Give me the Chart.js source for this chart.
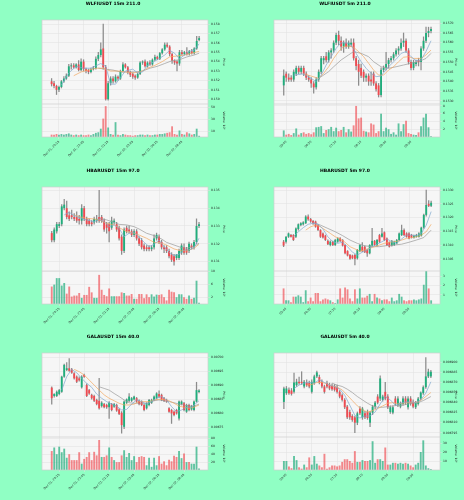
<!DOCTYPE html>
<html>
<head>
<meta charset="utf-8">
<script src="https://cdn.jsdelivr.net/npm/chart.js@4.4.0/dist/chart.umd.min.js"></script>
<style>
  html, body { margin: 0; padding: 0; background: #90ffc4; width: 464px; height: 500px; overflow: hidden; }
  .panel { position: absolute; width: 232px; height: 167px; }
</style>
</head>
<body>
<div class="panel" style="left:0;top:0"><canvas id="c0" width="232" height="167"></canvas></div>
<div class="panel" style="left:232px;top:0"><canvas id="c1" width="232" height="167"></canvas></div>
<div class="panel" style="left:0;top:167px"><canvas id="c2" width="232" height="167"></canvas></div>
<div class="panel" style="left:232px;top:167px"><canvas id="c3" width="232" height="167"></canvas></div>
<div class="panel" style="left:0;top:333px"><canvas id="c4" width="232" height="167"></canvas></div>
<div class="panel" style="left:232px;top:333px"><canvas id="c5" width="232" height="167"></canvas></div>
<script>
// ---- x axis tick labels ----
const tickIdx15 = [3, 13, 23, 33, 43, 53];
const labels15 = ['Dec 01, 20:15', 'Dec 01, 22:45', 'Dec 02, 01:15', 'Dec 02, 03:45', 'Dec 02, 06:15', 'Dec 02, 08:45'];
const tickIdx5 = [1, 11, 21, 31, 41, 51];
const labels5 = ['05:40', '06:30', '07:20', '08:10', '09:00', '09:50'];

// ---- WLFIUSDT 15m: [open, high, low, close] ----
const wlfi15 = [
  [.1519,.1522,.1514,.1516],[.1517,.1519,.1512,.1514],[.1514,.1515,.1505,.1510],[.1510,.1514,.1508,.1513],
  [.1513,.1520,.1512,.1519],[.1519,.1524,.1518,.1522],[.1522,.1527,.1521,.1525],[.1525,.1537,.1524,.1535],
  [.1535,.1538,.1532,.1536],[.1536,.1538,.1533,.1534],[.1534,.1538,.1533,.1537],[.1537,.1541,.1530,.1531],
  [.1531,.1543,.1530,.1540],[.1540,.1542,.1530,.1532],[.1532,.1533,.1528,.1530],[.1531,.1532,.1527,.1529],
  [.1529,.1533,.1528,.1532],[.1532,.1535,.1531,.1533],[.1533,.1545,.1532,.1543],[.1543,.1550,.1541,.1547],
  [.1547,.1560,.1545,.1553],[.1554,.1580,.1532,.1534],[.1534,.1536,.1499,.1500],[.1500,.1519,.1499,.1517],
  [.1517,.1524,.1515,.1522],[.1522,.1524,.1517,.1519],[.1519,.1526,.1518,.1524],[.1524,.1525,.1520,.1522],
  [.1522,.1531,.1521,.1530],[.1530,.1539,.1529,.1537],[.1537,.1538,.1533,.1534],[.1534,.1535,.1527,.1529],
  [.1529,.1530,.1524,.1526],[.1527,.1528,.1522,.1524],[.1525,.1526,.1521,.1523],[.1523,.1528,.1522,.1527],
  [.1527,.1540,.1526,.1539],[.1539,.1541,.1537,.1540],[.1540,.1542,.1534,.1535],[.1535,.1540,.1534,.1539],
  [.1539,.1541,.1536,.1537],[.1537,.1543,.1536,.1542],[.1542,.1547,.1541,.1545],[.1545,.1546,.1542,.1543],
  [.1543,.1550,.1542,.1549],[.1549,.1554,.1548,.1553],[.1553,.1560,.1552,.1558],[.1558,.1560,.1555,.1556],
  [.1556,.1557,.1546,.1548],[.1548,.1549,.1538,.1541],[.1541,.1542,.1537,.1539],[.1540,.1541,.1530,.1538],
  [.1538,.1552,.1536,.1550],[.1550,.1552,.1547,.1548],[.1548,.1551,.1547,.1550],[.1550,.1555,.1547,.1548],
  [.1548,.1552,.1547,.1551],[.1551,.1553,.1548,.1549],[.1549,.1555,.1548,.1554],[.1554,.1567,.1553,.1562],
  [.1563,.1567,.1562,.1565]
];
const wlfi15Vol = [4,4,5,4,5,4,5,6,4,3, 4,3,4,3,3,4,3,5,7,8, 14,31,52,16,5,4,25,4,3,5,
  4,3,3,2,3,3,4,4,3,4, 3,3,4,4,5,5,6,7,8,18, 5,4,11,5,4,8,6,4,5,14, 2];
const wlfi15MaFast = [[4,.1515],[7,.1528],[10,.1535],[13,.1533],[16,.1533],[20,.1538],[22,.1535],[24,.1516],[26,.1516],
  [28,.1523],[30,.1530],[33,.1532],[35,.1528],[37,.1529],[39,.1536],[43,.1542],[46,.1547],[48,.1552],[50,.1549],
  [52,.1543],[54,.1547],[56,.1551],[58,.1552],[60,.1559]];
const wlfi15MaMid = [[9,.1525],[12,.1529],[15,.1531],[18,.1533],[21,.1533],[24,.1530],[27,.1530],[30,.1529],[33,.1528],
  [36,.1529],[39,.1533],[42,.1536],[45,.1540],[48,.1545],[51,.1546],[54,.1547],[57,.1549],[60,.1551]];
const wlfi15MaSlow = [[19,.1533],[22,.1532],[25,.1531],[28,.1529],[31,.1529],[34,.1529],[37,.1530],[40,.1533],[43,.1535],
  [46,.1538],[49,.1541],[52,.1542],[55,.1545],[58,.1547],[60,.1549]];
const wlfi15Ticks = [0.150, 0.151, 0.152, 0.153, 0.154, 0.155, 0.156, 0.157, 0.158];
const wlfi15VolTicks = [10, 20, 30, 40, 50];

// ---- WLFIUSDT 5m ----
const wlfi5 = [
  [.1538,.1546,.1533,.1543],[.1544,.1545,.1540,.1542],[.1542,.1544,.1540,.1541],[.1542,.1543,.1540,.1541],
  [.1541,.1546,.1540,.1545],[.1544,.1548,.1543,.1547],[.1547,.1548,.1544,.1545],[.1545,.1548,.1544,.1547],
  [.1547,.1548,.1543,.1544],[.1544,.1545,.1541,.1542],[.1542,.1543,.1540,.1541],[.1541,.1542,.1537,.1539],
  [.1539,.1540,.1534,.1537],[.1537,.1542,.1536,.1541],[.1541,.1546,.1540,.1545],[.1545,.1553,.1544,.1552],
  [.1551,.1553,.1549,.1552],[.1553,.1555,.1550,.1551],[.1551,.1556,.1550,.1555],[.1555,.1557,.1552,.1556],
  [.1556,.1561,.1555,.1560],[.1560,.1565,.1559,.1564],[.1564,.1566,.1559,.1561],[.1561,.1563,.1556,.1558],
  [.1558,.1561,.1555,.1560],[.1560,.1562,.1557,.1558],[.1558,.1561,.1557,.1560],[.1559,.1562,.1558,.1560],
  [.1560,.1562,.1551,.1552],[.1552,.1553,.1546,.1548],[.1549,.1551,.1538,.1545],[.1547,.1549,.1542,.1543],
  [.1545,.1546,.1540,.1542],[.1542,.1544,.1540,.1543],[.1543,.1544,.1538,.1540],[.1541,.1545,.1538,.1540],
  [.1544,.1545,.1538,.1539],[.1539,.1540,.1535,.1536],[.1538,.1539,.1532,.1533],[.1533,.1547,.1532,.1546],
  [.1546,.1548,.1545,.1547],[.1547,.1555,.1546,.1549],[.1549,.1552,.1547,.1551],[.1551,.1553,.1550,.1552],
  [.1552,.1555,.1551,.1554],[.1554,.1557,.1553,.1556],[.1556,.1558,.1554,.1557],[.1557,.1562,.1556,.1560],
  [.1560,.1565,.1558,.1561],[.1561,.1562,.1555,.1556],[.1556,.1557,.1549,.1550],[.1550,.1551,.1546,.1547],
  [.1547,.1551,.1546,.1550],[.1549,.1551,.1548,.1550],[.1551,.1552,.1548,.1550],[.1550,.1558,.1546,.1557],
  [.1557,.1563,.1556,.1561],[.1561,.1568,.1560,.1565],[.1565,.1568,.1563,.1566],[.1566,.1568,.1565,.1567]
];
const wlfi5Vol = [1.7,0.6,0.8,0.5,1.0,2.2,0.6,1.0,1.2,0.8, 1.0,0.7,1.2,2.5,2.6,2.8,1.0,1.8,2.0,2.6,
  1.5,2.4,1.5,1.8,2.6,1.2,2.0,1.4,3.0,8.0, 4.8,5.0,1.6,1.4,1.2,3.5,3.2,1.0,1.5,6.0,
  1.5,2.4,2.0,0.8,1.2,0.6,3.5,1.5,3.3,4.2, 1.0,0.8,0.6,0.5,1.2,2.8,5.0,6.0,2.5,0.2];
const wlfi5MaFast = [[4,.15433],[8,.15439],[11,.15416],[13,.15399],[15,.15433],[17,.15485],[19,.15528],[21,.15571],
  [23,.15600],[26,.15597],[27,.15588],[29,.15545],[31,.15502],[33,.15468],[35,.15442],[37,.15425],[39,.15428],
  [40,.15445],[42,.15476],[45,.15514],[47,.15545],[49,.15554],[51,.15528],[53,.15507],[55,.15511],[57,.15555],[59,.15610]];
const wlfi5MaMid = [[8,.15439],[11,.15428],[14,.15416],[16,.15442],[18,.15476],[20,.15519],[22,.15554],[24,.15580],
  [26,.15583],[28,.15576],[30,.15554],[32,.15528],[34,.15494],[36,.15459],[38,.15433],[40,.15433],[42,.15459],
  [44,.15476],[46,.15502],[48,.15525],[50,.15528],[52,.15519],[55,.15519],[57,.15537],[59,.15562]];
const wlfi5MaSlow = [[14,.15416],[18,.15451],[20,.15476],[23,.15511],[26,.15537],[28,.15554],[31,.15545],[34,.15528],
  [36,.15502],[39,.15476],[42,.15468],[45,.15476],[48,.15485],[51,.15494],[54,.15502],[57,.15519],[59,.15545]];
const wlfi5Ticks = [0.1530, 0.1535, 0.1540, 0.1545, 0.1550, 0.1555, 0.1560, 0.1565, 0.1570];
const wlfi5VolTicks = [2, 4, 6, 8];

// ---- HBARUSDT 15m ----
const hbar15 = [
  [.1326,.1327,.1321,.1322],[.1322,.1329,.1321,.1328],[.1327,.1332,.1326,.1331],[.1330,.1332,.1329,.1331],
  [.1331,.1342,.1330,.1341],[.1340,.1345,.1339,.1342],[.1340,.1344,.1334,.1335],[.1336,.1338,.1333,.1334],
  [.1336,.1339,.1334,.1335],[.1335,.1337,.1333,.1334],[.1335,.1338,.1332,.1333],[.1334,.1336,.1331,.1333],
  [.1333,.1342,.1331,.1340],[.1340,.1341,.1333,.1334],[.1334,.1335,.1330,.1331],[.1333,.1334,.1330,.1331],
  [.1332,.1333,.1330,.1331],[.1332,.1335,.1331,.1334],[.1333,.1336,.1332,.1334],[.1335,.1350,.1332,.1333],
  [.1335,.1336,.1332,.1333],[.1333,.1334,.1327,.1328],[.1331,.1332,.1326,.1329],[.1331,.1332,.1321,.1327],
  [.1329,.1335,.1328,.1333],[.1332,.1334,.1331,.1333],[.1331,.1332,.1327,.1328],[.1329,.1330,.1322,.1323],
  [.1324,.1325,.1314,.1316],[.1316,.1329,.1315,.1328],[.1329,.1330,.1326,.1327],[.1328,.1330,.1326,.1327],
  [.1327,.1328,.1324,.1325],[.1325,.1328,.1324,.1327],[.1327,.1328,.1322,.1323],[.1323,.1324,.1319,.1320],
  [.1322,.1323,.1317,.1318],[.1319,.1320,.1316,.1317],[.1318,.1319,.1316,.1317],[.1318,.1319,.1316,.1317],
  [.1317,.1319,.1316,.1318],[.1318,.1325,.1317,.1323],[.1323,.1326,.1322,.1325],[.1324,.1325,.1320,.1321],
  [.1321,.1322,.1317,.1318],[.1318,.1319,.1315,.1317],[.1318,.1319,.1315,.1316],[.1316,.1317,.1312,.1313],
  [.1314,.1315,.1310,.1311],[.1313,.1314,.1308,.1310],[.1312,.1314,.1311,.1314],[.1312,.1317,.1311,.1316],
  [.1315,.1320,.1314,.1319],[.1318,.1320,.1314,.1315],[.1317,.1318,.1314,.1315],[.1316,.1321,.1315,.1320],
  [.1319,.1320,.1317,.1318],[.1318,.1322,.1317,.1321],[.1321,.1334,.1320,.1330],[.1330,.1332,.1329,.1331]
];
const hbar15Vol = [5.4,6.0,8.0,8.0,5.7,6.5,3.2,5.4,2.3,2.6, 2.6,3.4,1.9,2.8,2.8,5.3,3.6,1.9,1.9,9.0,
  4.4,2.8,2.4,4.8,2.4,2.4,2.4,2.4,3.6,3.4, 2.6,2.6,3.1,1.6,1.6,3.1,3.1,1.8,3.0,2.1,
  3.0,2.3,2.9,2.8,3.0,2.1,1.1,4.4,3.8,3.6, 2.1,3.0,3.0,2.1,1.6,2.6,1.6,1.9,7.2,0.4];
const hbar15MaFast = [[5,.13362],[7,.13377],[9,.13358],[11,.13347],[14,.13334],[17,.13324],[19,.13337],[21,.13324],
  [23,.13296],[25,.13306],[27,.13287],[29,.13240],[31,.13259],[33,.13263],[35,.13240],[37,.13208],[39,.13184],
  [41,.13197],[43,.13221],[45,.13184],[47,.13152],[49,.13133],[51,.13141],[53,.13165],[55,.13165],[57,.13178],[59,.13231]];
const hbar15MaMid = [[9,.13362],[11,.13352],[14,.13343],[17,.13339],[19,.13334],[22,.13315],[25,.13306],[27,.13291],
  [30,.13268],[33,.13259],[35,.13249],[38,.13231],[41,.13208],[44,.13203],[46,.13193],[49,.13171],[52,.13160],
  [54,.13160],[57,.13175],[59,.13197]];
const hbar15MaSlow = [[19,.13343],[22,.13334],[25,.13320],[27,.13309],[30,.13306],[33,.13296],[35,.13283],[38,.13259],
  [41,.13246],[44,.13227],[46,.13208],[49,.13193],[52,.13178],[54,.13175],[57,.13184],[59,.13203]];
const hbar15Ticks = [0.131, 0.132, 0.133, 0.134, 0.135];
const hbar15VolTicks = [2, 4, 6, 8, 10];

// ---- HBARUSDT 5m ----
const hbar5 = [
  [.13113,.13118,.13095,.13099],[.13113,.13132,.13108,.13131],[.13131,.13145,.13128,.13143],[.13137,.13140,.13129,.13131],
  [.13137,.13139,.13117,.13119],[.13131,.13163,.13128,.13161],[.13159,.13178,.13155,.13176],[.13173,.13182,.13170,.13180],
  [.13176,.13186,.13173,.13183],[.13180,.13208,.13178,.13204],[.13204,.13210,.13190,.13194],[.13195,.13198,.13183,.13186],
  [.13188,.13190,.13176,.13180],[.13186,.13188,.13165,.13167],[.13173,.13175,.13153,.13155],[.13155,.13157,.13128,.13131],
  [.13143,.13145,.13126,.13128],[.13135,.13137,.13117,.13119],[.13116,.13120,.13102,.13104],[.13101,.13116,.13098,.13113],
  [.13113,.13115,.13099,.13101],[.13101,.13122,.13099,.13119],[.13113,.13128,.13110,.13125],[.13125,.13128,.13113,.13116],
  [.13119,.13121,.13097,.13099],[.13101,.13103,.13069,.13071],[.13079,.13081,.13061,.13063],[.13065,.13067,.13049,.13051],
  [.13063,.13065,.13051,.13053],[.13065,.13067,.13029,.13051],[.13053,.13085,.13050,.13083],[.13079,.13103,.13077,.13101],
  [.13095,.13110,.13077,.13079],[.13095,.13098,.13073,.13075],[.13083,.13086,.13060,.13071],[.13071,.13103,.13069,.13101],
  [.13099,.13161,.13096,.13116],[.13116,.13118,.13099,.13101],[.13099,.13122,.13097,.13119],[.13137,.13140,.13110,.13113],
  [.13131,.13161,.13129,.13143],[.13147,.13149,.13117,.13119],[.13125,.13127,.13099,.13101],[.13111,.13113,.13093,.13095],
  [.13099,.13118,.13097,.13116],[.13101,.13115,.13099,.13113],[.13107,.13122,.13105,.13119],[.13119,.13145,.13117,.13143],
  [.13137,.13173,.13135,.13155],[.13155,.13160,.13135,.13137],[.13143,.13146,.13129,.13131],[.13143,.13146,.13123,.13125],
  [.13137,.13140,.13126,.13128],[.13128,.13137,.13126,.13135],[.13131,.13140,.13129,.13137],[.13131,.13146,.13129,.13143],
  [.13135,.13166,.13133,.13164],[.13164,.13213,.13161,.13210],[.13210,.13300,.13205,.13246],[.13250,.13262,.13240,.13243],
  [.13243,.13260,.13240,.13254]
];
const hbar5Vol = [1.7,0.4,0.4,0.2,0.8,0.8,0.95,0.8,0.2,1.5, 0.3,0.7,0.3,1.2,1.2,0.3,0.5,0.6,0.5,0.4,
  0.2,0.1,0.5,1.7,0.7,1.8,1.6,0.6,0.3,1.6, 0.6,1.7,0.7,0.7,0.9,1.1,0.3,1.1,0.7,0.6,
  0.4,0.5,0.5,0.3,0.7,0.3,0.4,1.1,0.8,0.4, 0.3,0.4,0.4,0.5,0.4,0.5,0.6,2.1,3.6,1.7,0.4];
const hbar5MaFast = [[4,.13131],[6,.13149],[8,.13164],[10,.13176],[12,.13180],[14,.13176],[16,.13159],[18,.13131],
  [20,.13113],[22,.13107],[24,.13111],[26,.13095],[28,.13075],[30,.13065],[32,.13075],[34,.13083],[36,.13095],
  [38,.13104],[40,.13113],[42,.13123],[44,.13113],[46,.13107],[48,.13123],[50,.13137],[52,.13137],[54,.13135],
  [56,.13143],[58,.13173],[60,.13222]];
const hbar5MaMid = [[9,.13155],[11,.13167],[13,.13173],[15,.13167],[17,.13155],[19,.13143],[21,.13131],[23,.13123],
  [25,.13111],[27,.13095],[29,.13087],[31,.13079],[33,.13083],[35,.13089],[37,.13095],[39,.13101],[41,.13107],
  [43,.13111],[45,.13113],[47,.13116],[50,.13125],[52,.13128],[54,.13131],[56,.13137],[58,.13149],[60,.13176]];
const hbar5MaSlow = [[12,.13183],[15,.13173],[18,.13161],[21,.13149],[24,.13135],[27,.13119],[30,.13107],[33,.13098],
  [36,.13095],[39,.13095],[42,.13099],[45,.13101],[48,.13104],[51,.13111],[54,.13119],[57,.13128],[60,.13155]];
const hbar5Ticks = [0.1305, 0.1310, 0.1315, 0.1320, 0.1325, 0.1330];
const hbar5VolTicks = [1, 2, 3];

// ---- GALAUSDT 15m ----
const gala15 = [
  [.006892,.006895,.006833,.006854],[.006862,.006871,.006858,.006869],[.006862,.006880,.006860,.006877],[.006869,.006886,.006866,.006883],
  [.006877,.006933,.006875,.006931],[.006931,.006976,.006928,.006973],[.006955,.006981,.006952,.006961],[.006961,.006996,.006950,.006952],
  [.006957,.006961,.006943,.006945],[.006943,.006946,.006922,.006925],[.006931,.006934,.006910,.006913],[.006925,.006930,.006915,.006918],
  [.006893,.006935,.006890,.006931],[.006937,.006940,.006928,.006931],[.006901,.006905,.006860,.006862],[.006883,.006886,.006868,.006871],
  [.006866,.006869,.006851,.006854],[.006862,.006865,.006842,.006845],[.006848,.006851,.006830,.006833],[.006845,.006925,.006815,.006818],
  [.006826,.006842,.006822,.006838],[.006833,.006836,.006819,.006822],[.006830,.006833,.006818,.006822],[.006822,.006842,.006782,.006838],
  [.006833,.006836,.006809,.006812],[.006824,.006836,.006821,.006833],[.006830,.006833,.006807,.006810],[.006814,.006817,.006795,.006798],
  [.006802,.006806,.006729,.006758],[.006752,.006845,.006745,.006842],[.006838,.006852,.006835,.006850],[.006845,.006871,.006842,.006860],
  [.006845,.006857,.006842,.006854],[.006850,.006862,.006848,.006860],[.006854,.006857,.006839,.006842],[.006845,.006848,.006830,.006833],
  [.006842,.006845,.006827,.006830],[.006830,.006833,.006809,.006812],[.006818,.006838,.006815,.006836],[.006830,.006850,.006827,.006848],
  [.006838,.006851,.006835,.006848],[.006848,.006863,.006845,.006860],[.006854,.006874,.006851,.006871],[.006869,.006880,.006857,.006860],
  [.006866,.006869,.006845,.006848],[.006854,.006857,.006842,.006845],[.006848,.006851,.006839,.006842],[.006818,.006821,.006803,.006806],
  [.006812,.006815,.006764,.006800],[.006806,.006809,.006791,.006794],[.006812,.006815,.006797,.006800],[.006782,.006845,.006776,.006842],
  [.006833,.006845,.006830,.006842],[.006836,.006839,.006809,.006812],[.006806,.006833,.006803,.006830],[.006830,.006833,.006809,.006812],
  [.006814,.006829,.006811,.006826],[.006812,.006845,.006809,.006842],[.006842,.006911,.006840,.006883],[.006876,.006885,.006873,.006882]
];
const gala15Vol = [48,57,40,59,45,54,31,40,25,25, 25,45,16,28,33,45,25,46,37,76,
  33,33,37,57,33,25,20,20,37,50, 33,43,25,35,20,33,35,33,12,31,
  8,31,12,35,16,22,12,26,22,36, 33,48,30,42,20,20,16,16,59,4];
const gala15MaFast = [[4,.006883],[6,.006931],[8,.006957],[10,.006945],[12,.006925],[14,.006907],[16,.006893],[18,.006869],
  [20,.006854],[22,.006842],[24,.006833],[26,.006826],[28,.006812],[30,.006814],[32,.006833],[34,.006848],[36,.006842],
  [38,.006833],[40,.006842],[42,.006854],[44,.006860],[46,.006848],[48,.006824],[50,.006806],[52,.006812],[54,.006822],
  [56,.006822],[59,.006845]];
const gala15MaMid = [[9,.006957],[11,.006949],[13,.006937],[15,.006919],[17,.006901],[19,.006883],[21,.006866],[23,.006854],
  [25,.006845],[27,.006836],[29,.006830],[31,.006830],[33,.006833],[35,.006842],[37,.006842],[39,.006842],[41,.006848],
  [43,.006850],[45,.006850],[47,.006845],[49,.006836],[51,.006826],[53,.006822],[55,.006818],[57,.006822],[59,.006830]];
const gala15MaSlow = [[19,.006895],[21,.006889],[23,.006883],[25,.006871],[27,.006860],[29,.006848],[31,.006838],[33,.006836],
  [35,.006836],[37,.006836],[39,.006838],[41,.006845],[43,.006848],[45,.006845],[47,.006842],[49,.006838],[51,.006833],
  [53,.006830],[55,.006826],[57,.006826],[59,.006833]];
const gala15Ticks = [0.00675, 0.00680, 0.00685, 0.00690, 0.00695, 0.00700];
const gala15VolTicks = [20, 40, 60, 80];

// ---- GALAUSDT 5m ----
const gala5 = [
  [.006841,.006863,.006831,.006861],[.006854,.006864,.006852,.006861],[.006859,.006862,.006852,.006854],[.006858,.006861,.006851,.006853],
  [.006856,.006884,.006854,.006870],[.006866,.006875,.006864,.006871],[.006871,.006878,.006867,.006869],[.006871,.006886,.006867,.006869],
  [.006864,.006873,.006862,.006871],[.006870,.006874,.006864,.006866],[.006869,.006872,.006862,.006864],[.006856,.006874,.006854,.006871],
  [.006869,.006881,.006867,.006879],[.006879,.006887,.006877,.006885],[.006878,.006881,.006868,.006870],[.006871,.006874,.006862,.006864],
  [.006864,.006866,.006854,.006856],[.006869,.006872,.006862,.006864],[.006866,.006869,.006859,.006861],[.006865,.006868,.006858,.006860],
  [.006864,.006867,.006857,.006859],[.006863,.006866,.006854,.006856],[.006856,.006858,.006847,.006849],[.006851,.006853,.006842,.006844],
  [.006844,.006846,.006831,.006833],[.006834,.006836,.006816,.006818],[.006826,.006829,.006815,.006818],[.006820,.006822,.006812,.006814],
  [.006818,.006820,.006795,.006810],[.006810,.006826,.006807,.006824],[.006831,.006834,.006822,.006824],[.006818,.006833,.006815,.006831],
  [.006824,.006827,.006816,.006818],[.006826,.006829,.006815,.006817],[.006810,.006827,.006804,.006825],[.006825,.006836,.006822,.006834],
  [.006834,.006842,.006831,.006840],[.006849,.006852,.006838,.006840],[.006846,.006880,.006843,.006876],[.006844,.006851,.006842,.006849],
  [.006856,.006870,.006844,.006846],[.006849,.006852,.006831,.006833],[.006826,.006835,.006824,.006833],[.006825,.006835,.006823,.006833],
  [.006846,.006849,.006836,.006839],[.006836,.006849,.006834,.006846],[.006834,.006841,.006832,.006839],[.006838,.006849,.006836,.006846],
  [.006846,.006849,.006837,.006840],[.006833,.006849,.006830,.006846],[.006846,.006849,.006836,.006839],[.006841,.006844,.006832,.006834],
  [.006833,.006842,.006831,.006840],[.006838,.006848,.006836,.006846],[.006846,.006856,.006844,.006855],[.006854,.006865,.006852,.006863],
  [.006863,.006907,.006861,.006879],[.006879,.006890,.006877,.006886],[.006879,.006888,.006877,.006886]
];
const gala5Vol = [10,10,4,2,15.5,11,3,1.5,6,3, 14,6,15.5,7,5,3,18,1.5,3,5,
  5,4,5,9,12,12,10,8,21,9, 9,11,10,10,11,32,8,12,12,10,
  25,6,6,8,8,7,8,7,8,7, 5,3,6,8,20,33,5,2,1];
const gala5MaFast = [[4,.006861],[6,.006866],[8,.006869],[10,.006870],[12,.006869],[14,.006874],[16,.006870],[18,.006866],
  [20,.006864],[22,.006860],[24,.006851],[26,.006836],[28,.006821],[30,.006817],[32,.006820],[34,.006820],[36,.006826],
  [38,.006838],[40,.006849],[42,.006844],[44,.006836],[46,.006839],[48,.006841],[50,.006841],[52,.006840],[54,.006844],
  [56,.006854],[58,.006871]];
const gala5MaMid = [[9,.006866],[11,.006867],[13,.006870],[15,.006870],[17,.006868],[19,.006865],[21,.006863],[23,.006859],
  [25,.006851],[27,.006843],[29,.006835],[31,.006829],[33,.006826],[35,.006828],[37,.006831],[39,.006835],[41,.006839],
  [43,.006840],[45,.006838],[47,.006839],[49,.006840],[51,.006840],[53,.006841],[55,.006846],[58,.006855]];
const gala5MaSlow = [[19,.006869],[21,.006866],[23,.006864],[25,.006860],[27,.006855],[29,.006849],[31,.006844],[33,.006839],
  [35,.006835],[37,.006833],[39,.006833],[41,.006834],[43,.006835],[45,.006836],[47,.006836],[49,.006838],[51,.006839],
  [53,.006840],[55,.006843],[58,.006849]];
const gala5Ticks = [0.006795, 0.006810, 0.006825, 0.006840, 0.006855, 0.006870, 0.006885, 0.006900];
const gala5VolTicks = [10, 20, 30];

// ---- styles ----
const UP = '#1fae7c', DOWN = '#f04a50';
const UP_VOL = 'rgba(31,174,124,0.7)', DOWN_VOL = 'rgba(240,74,80,0.65)';
const WICK = '#8c8c8c';
const MA_COLORS = ['#7fa7cf', '#f2a860', '#9a9a9a'];
const GRID = '#e0e0e0', PLOT_BG = '#f6f6f6', FRAME = '#cfcfcf';

Chart.defaults.font.family = "'DejaVu Sans'";
Chart.defaults.color = '#222';

const panels = [
  { el: 'c0', title: 'WLFIUSDT 15m 211.0', candles: wlfi15, vol: wlfi15Vol, mas: [wlfi15MaFast, wlfi15MaMid, wlfi15MaSlow],
    ticks: wlfi15Ticks, dec: 3, yMin: 0.14949, yMax: 0.15843, volTicks: wlfi15VolTicks, volMax: 55.6, xt: tickIdx15, xl: labels15 },
  { el: 'c1', title: 'WLFIUSDT 5m 211.0', candles: wlfi5, vol: wlfi5Vol, mas: [wlfi5MaFast, wlfi5MaMid, wlfi5MaSlow],
    ticks: wlfi5Ticks, dec: 4, yMin: 0.15284, yMax: 0.15717, volTicks: wlfi5VolTicks, volMax: 8.5, xt: tickIdx5, xl: labels5 },
  { el: 'c2', title: 'HBARUSDT 15m 97.0', candles: hbar15, vol: hbar15Vol, mas: [hbar15MaFast, hbar15MaMid, hbar15MaSlow],
    ticks: hbar15Ticks, dec: 3, yMin: 0.13047, yMax: 0.13519, volTicks: hbar15VolTicks, volMax: 10.2, xt: tickIdx15, xl: labels15 },
  { el: 'c3', title: 'HBARUSDT 5m 97.0', candles: hbar5, vol: hbar5Vol, mas: [hbar5MaFast, hbar5MaMid, hbar5MaSlow],
    ticks: hbar5Ticks, dec: 4, yMin: 0.13007, yMax: 0.13311, volTicks: hbar5VolTicks, volMax: 3.6, xt: tickIdx5, xl: labels5 },
  { el: 'c4', title: 'GALAUSDT 15m 40.0', candles: gala15, vol: gala15Vol, mas: [gala15MaFast, gala15MaMid, gala15MaSlow],
    ticks: gala15Ticks, dec: 5, yMin: 0.0067156, yMax: 0.0070155, volTicks: gala15VolTicks, volMax: 83.5, xt: tickIdx15, xl: labels15 },
  { el: 'c5', title: 'GALAUSDT 5m 40.0', candles: gala5, vol: gala5Vol, mas: [gala5MaFast, gala5MaMid, gala5MaSlow],
    ticks: gala5Ticks, dec: 6, yMin: 0.0067887, yMax: 0.0069139, volTicks: gala5VolTicks, volMax: 36.7, xt: tickIdx5, xl: labels5 }
];

// plot background and frames
const plotFrame = {
  id: 'plotFrame',
  beforeDraw(chart) {
    const { ctx, chartArea: a } = chart;
    ctx.save();
    ctx.fillStyle = PLOT_BG;
    ctx.fillRect(a.left, a.top, a.right - a.left, a.bottom - a.top);
    ctx.restore();
  },
  afterDraw(chart) {
    const { ctx, chartArea: a, scales } = chart;
    ctx.save();
    ctx.strokeStyle = FRAME;
    ctx.lineWidth = 0.7;
    ctx.strokeRect(a.left, a.top, a.right - a.left, a.bottom - a.top);
    ctx.beginPath();
    ctx.moveTo(a.left, scales.y.bottom);
    ctx.lineTo(a.right, scales.y.bottom);
    ctx.stroke();
    ctx.restore();
  }
};

function axisTicks(list) {
  return s => { s.ticks = list.map(v => ({ value: v })); };
}

panels.forEach(p => {
  const n = p.candles.length;
  const up = p.candles.map(c => c[3] >= c[0]);

  const maSets = p.mas.map((pts, k) => ({
    type: 'line',
    data: pts.map(([x, y]) => ({ x, y })),
    borderColor: MA_COLORS[k],
    borderWidth: 0.7,
    pointRadius: 0,
    tension: 0,
    yAxisID: 'y',
    order: 1
  }));

  new Chart(document.getElementById(p.el), {
    type: 'bar',
    data: {
      datasets: [
        ...maSets,
        {
          data: p.candles.map((c, i) => ({ x: i, y: [c[2], c[1]] })),
          backgroundColor: WICK,
          barThickness: 0.6,
          grouped: false,
          yAxisID: 'y',
          order: 3
        },
        {
          data: p.candles.map((c, i) => ({ x: i, y: [Math.min(c[0], c[3]), Math.max(c[0], c[3])] })),
          backgroundColor: up.map(u => u ? UP : DOWN),
          barPercentage: 0.75,
          categoryPercentage: 1,
          minBarLength: 0.8,
          grouped: false,
          yAxisID: 'y',
          order: 2
        },
        {
          data: p.vol.map((v, i) => ({ x: i, y: v })),
          backgroundColor: up.map(u => u ? UP_VOL : DOWN_VOL),
          barPercentage: 0.75,
          categoryPercentage: 1,
          grouped: false,
          yAxisID: 'v',
          order: 2
        }
      ]
    },
    options: {
      responsive: false,
      animation: false,
      devicePixelRatio: 1,
      layout: { padding: { left: 0, right: 6, top: 0, bottom: 0 } },
      plugins: {
        legend: { display: false },
        tooltip: { enabled: false },
        title: {
          display: true,
          text: p.title,
          color: '#000',
          font: { size: 4.5, weight: 'bold' },
          padding: { top: 1.5, bottom: 13.1 }
        }
      },
      scales: {
        x: {
          type: 'linear',
          min: -3.9,
          max: n - 1 + 3.6,
          offset: false,
          afterBuildTicks: axisTicks(p.xt),
          afterFit: s => { s.height = 30; },
          ticks: {
            callback: (v, i) => p.xl[i],
            autoSkip: false,
            minRotation: 45,
            maxRotation: 45,
            padding: 1,
            font: { size: 3 }
          },
          grid: { color: GRID, lineWidth: 0.5, offset: false, tickLength: 2 },
          border: { display: false }
        },
        lpad: {
          type: 'linear',
          position: 'left',
          grid: { display: false },
          ticks: { display: false },
          border: { display: false },
          afterFit: s => { s.width = 42; }
        },
        y: {
          type: 'linear',
          position: 'right',
          stack: 'pv',
          stackWeight: 84,
          min: p.yMin,
          max: p.yMax,
          afterBuildTicks: axisTicks(p.ticks),
          afterFit: s => { s.width = 18; },
          ticks: { callback: v => v.toFixed(p.dec), padding: 1, font: { size: 3 } },
          grid: { color: GRID, lineWidth: 0.5, tickLength: 2 },
          border: { display: false },
          title: { display: true, text: 'Price', padding: 0, font: { size: 3 } }
        },
        v: {
          type: 'linear',
          position: 'right',
          stack: 'pv',
          stackWeight: 33,
          min: 0,
          max: p.volMax,
          afterBuildTicks: axisTicks(p.volTicks),
          afterFit: s => { s.width = 18; },
          ticks: { callback: v => String(v), padding: 1, font: { size: 3 } },
          grid: { color: GRID, lineWidth: 0.5, tickLength: 2 },
          border: { display: false },
          title: { display: true, text: 'Volume  10⁶', padding: 0, font: { size: 3 } }
        }
      }
    },
    plugins: [plotFrame]
  });
});
</script>
</body>
</html>
